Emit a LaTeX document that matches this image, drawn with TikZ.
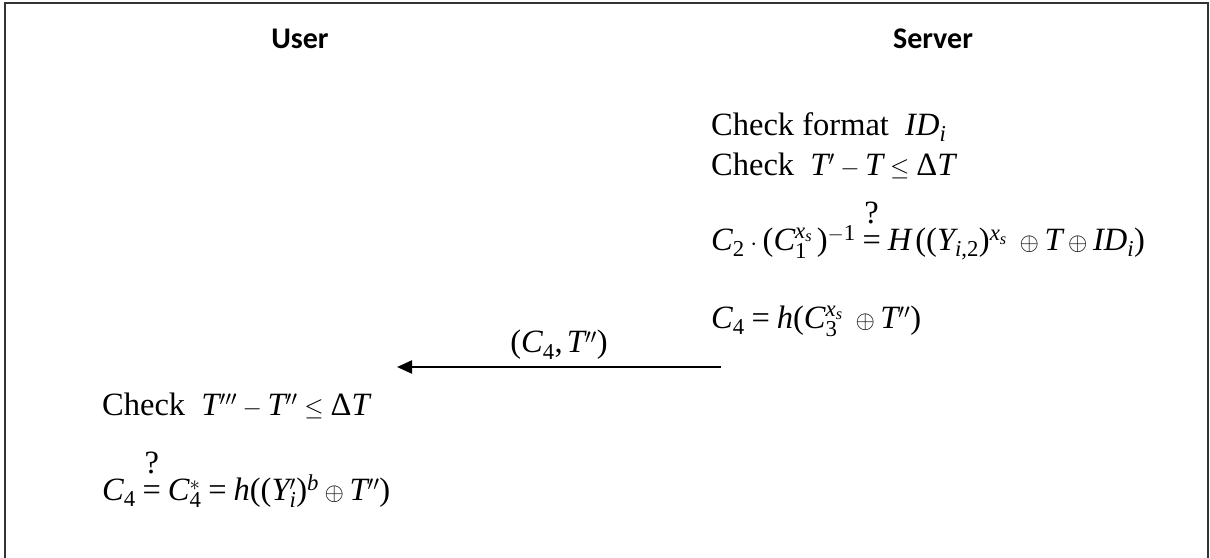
\documentclass[tikz,border=0pt]{standalone}
\usepackage[no-math]{fontspec}
\setmainfont{Liberation Serif}
\newfontfamily\headfont{Carlito}
\DeclareSymbolFont{letters}{TU}{\rmdefault}{m}{it}
\DeclareSymbolFont{operators}{TU}{\rmdefault}{m}{n}
\mathcode`\,="602C
\usetikzlibrary{arrows.meta}
\tikzset{
  head/.style={font=\headfont\fontsize{30}{36}\selectfont\bfseries, anchor=base, inner sep=0pt},
  line/.style={font=\fontsize{32.5}{39}\selectfont, anchor=base west, inner sep=0pt},
  msg/.style={line width=2.2pt, -{Triangle[length=15pt,width=13pt]}},
}
\newcommand{\Dlt}{\mbox{Δ}}
\newcommand{\qeq}{\mathrel{\setbox0\hbox{$=$}\hbox to\wd0{\hss\raisebox{0.82em}{?}\hss}\kern-\wd0\box0}}
\begin{document}
\begin{tikzpicture}[x=1pt,y=-1pt]
\useasboundingbox (0,0) rectangle (1210,557);
\draw[line width=1.6pt, draw=black!80] (5,570) -- (5,2.8) -- (1208,2.8) -- (1208,570);
\node[head] (user) at (300,48) {User};
\node[head] (server) at (933,48) {Server};
\node[line] (s1) at (711,135) {Check format\ \ $ID_i$};
\node[line] (s2) at (711,175) {Check\ \ $T'-T\le\Dlt T$};
\node[line] (s3) at (711,250) {$C_2\cdot(C_1^{x_s}\,)^{-1}\qeq H\,((Y_{i,2})^{x_s}\;\oplus T\oplus ID_i)$};
\node[line] (s4) at (711,328) {$C_4=h(C_3^{x_s}\;\oplus T'')$};
\coordinate (as) at (721,367);
\coordinate (ae) at (397,367);
\draw[msg] (as) -- (ae) node[midway, above=6pt, font=\fontsize{32.5}{39}\selectfont, inner sep=0pt] (lbl) {$(C_4,T'')$};
\node[line] (u1) at (102,415) {Check\ \ $T'''-T''\le\Dlt T$};
\node[line] (u2) at (102,500) {$C_4\qeq C_4^{*}=h((Y_i')^b\oplus T'')$};
\end{tikzpicture}
\end{document}
